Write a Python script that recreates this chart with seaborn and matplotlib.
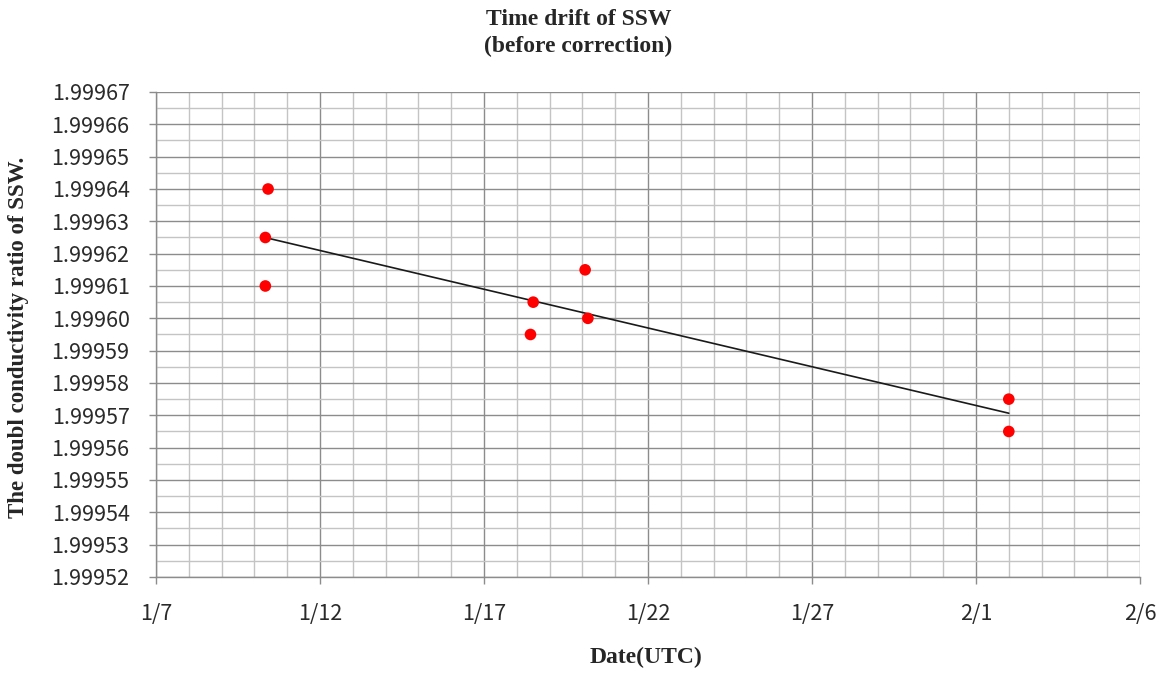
import matplotlib
matplotlib.use("Agg")
import matplotlib.pyplot as plt
import matplotlib.dates as mdates
from matplotlib.ticker import MultipleLocator, FixedLocator, FuncFormatter
import numpy as np
import pandas as pd
import seaborn as sns

# Measurement times (UTC) and double conductivity ratio of SSW
sample_times = [
    "2010-01-10 08:00", "2010-01-10 08:00", "2010-01-10 10:00",
    "2010-01-18 12:00", "2010-01-18 10:00",
    "2010-01-20 02:00", "2010-01-20 04:00",
    "2010-02-02 00:00", "2010-02-02 00:00",
]
ratio_values = [
    1.999625, 1.99961, 1.99964,
    1.999605, 1.999595,
    1.999615, 1.99960,
    1.999575, 1.999565,
]
y_tick_values = [1.99952 + i * 0.00001 for i in range(16)]
x_tick_dates = ["2010-01-07", "2010-01-12", "2010-01-17", "2010-01-22",
                "2010-01-27", "2010-02-01", "2010-02-06"]

df = pd.DataFrame({"time": pd.to_datetime(sample_times), "ratio": ratio_values})
df["num"] = mdates.date2num(df["time"])

sns.set_theme(style="white")
plt.rcParams["font.family"] = ["Noto Sans CJK KR", "DejaVu Sans"]

fig = plt.figure(figsize=(11.66, 6.73), dpi=100)
ax = fig.add_axes([0.1338, 0.1427, 0.9777 - 0.1338, 0.8633 - 0.1427])

x_ticks = mdates.date2num(pd.to_datetime(x_tick_dates))
ax.set_xlim(x_ticks[0], x_ticks[-1])
ax.set_ylim(y_tick_values[0], y_tick_values[-1])

# Grid: major every 5 days / 0.00001, minor every day / 0.000005
ax.xaxis.set_major_locator(FixedLocator(x_ticks))
ax.xaxis.set_minor_locator(MultipleLocator(1))
ax.yaxis.set_major_locator(FixedLocator(y_tick_values))
ax.yaxis.set_minor_locator(MultipleLocator(0.000005))
ax.grid(which="major", color="#8c8c8c", linewidth=1.0)
ax.grid(which="minor", color="#c4c4c4", linewidth=1.0)
ax.set_axisbelow(True)

ax.xaxis.set_major_formatter(FuncFormatter(
    lambda v, p: f"{mdates.num2date(v).month}/{mdates.num2date(v).day}"))
ax.yaxis.set_major_formatter(FuncFormatter(lambda v, p: f"{v:.5f}"))

# Linear trend line over the sampled period
coef = np.polyfit(df["num"] - df["num"].min(), df["ratio"], 1)
trend_x = np.array([df["num"].min(), df["num"].max()])
trend_y = np.polyval(coef, trend_x - df["num"].min())
sns.lineplot(x=trend_x, y=trend_y, ax=ax, color="#1a1a1a", linewidth=1.2)

sns.scatterplot(data=df, x="num", y="ratio", ax=ax, color="#ff0000",
                s=70, edgecolor="none", zorder=3)

for side in ["top", "right"]:
    ax.spines[side].set_visible(False)
for side in ["left", "bottom"]:
    ax.spines[side].set_color("#8c8c8c")
    ax.spines[side].set_linewidth(1.0)

ax.tick_params(axis="both", which="major", length=5, width=1.0, color="#8c8c8c",
               direction="out", labelsize=15.5, labelcolor="#2a2a2a",
               left=True, bottom=True)
ax.tick_params(axis="y", pad=14)
ax.tick_params(axis="x", pad=14)
ax.tick_params(which="minor", length=0)
ax.set_xlabel("")
ax.set_ylabel("")

serif = ["Liberation Serif", "DejaVu Serif"]
fig.text(0.554, 1 - 657 / 673, "Date(UTC)", ha="center", va="center",
         fontsize=17, fontweight="bold", family=serif)
fig.text(19 / 1166, 0.499, "The doubl conductivity ratio of SSW.", ha="center",
         va="center", rotation=90, fontsize=16.5, fontweight="bold", family=serif)
fig.text(0.496, 1 - 33 / 673, "Time drift of SSW\n(before correction)", ha="center",
         va="center", fontsize=17, fontweight="bold", family=serif,
         linespacing=1.4)

fig.savefig("out.png", dpi=100, facecolor="white")
